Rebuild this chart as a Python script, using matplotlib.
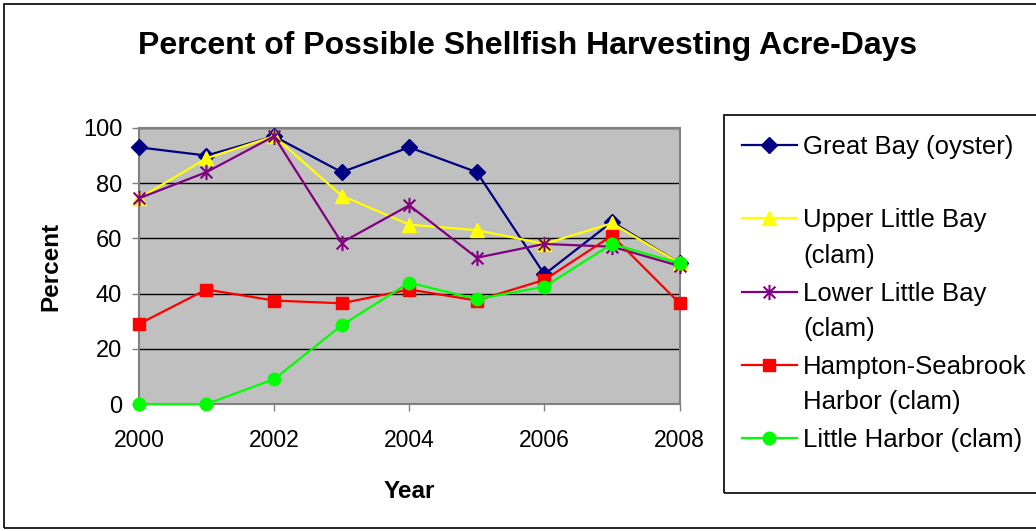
import matplotlib.pyplot as plt
from matplotlib.path import Path
from matplotlib.lines import Line2D
from matplotlib.patches import Rectangle

plt.rcParams['font.family'] = ['Liberation Sans', 'DejaVu Sans']

years = [2000, 2001, 2002, 2003, 2004, 2005, 2006, 2007, 2008]
great_bay = [93, 90, 97, 84, 93, 84, 47, 66, 51]
upper_little_bay = [74.5, 89, 97, 75.5, 65, 63, 58, 65.5, 51]
lower_little_bay = [74.5, 84, 97, 58.5, 72, 53, 58, 57, 50]
hampton_seabrook = [29, 41.5, 37.5, 36.5, 41.5, 37.5, 45, 61, 36.5]
little_harbor = [0, 0, 9, 28.5, 44, 38, 42.5, 58, 51]

labels = ['Great Bay (oyster)', 'Upper Little Bay\n(clam)', 'Lower Little Bay\n(clam)',
          'Hampton-Seabrook\nHarbor (clam)', 'Little Harbor (clam)']
series = [great_bay, upper_little_bay, lower_little_bay, hampton_seabrook, little_harbor]

# asterisk marker: an x with a vertical bar
star = Path([(-1, -1), (1, 1), (-1, 1), (1, -1), (0, -1.3), (0, 1.3)],
            [Path.MOVETO, Path.LINETO, Path.MOVETO, Path.LINETO, Path.MOVETO, Path.LINETO])

styles = [
    dict(color='#000080', marker='D', ms=8, mfc='#000080', mec='#000080'),
    dict(color='#FFFF00', marker='^', ms=10, mfc='#FFFF00', mec='#FFFF00'),
    dict(color='#800080', marker=star, ms=11, mfc='none', mec='#800080', mew=1.5),
    dict(color='#FF0000', marker='s', ms=9, mfc='#FF0000', mec='#FF0000'),
    dict(color='#00FF00', marker='o', ms=9, mfc='#00FF00', mec='#00FF00'),
]

fig = plt.figure(figsize=(10.36, 5.31), dpi=100)
ax = fig.add_axes([0.134, 0.239, 0.522, 0.52])
ax.set_facecolor('#C0C0C0')

for vals, st in zip(series, styles):
    ax.plot(years, vals, lw=1.6, zorder=3, clip_on=False, **st)

ax.set_xlim(2000, 2008)
ax.set_ylim(0, 100)
ax.set_xticks([2000, 2002, 2004, 2006, 2008])
ax.set_yticks([0, 20, 40, 60, 80, 100])
ax.tick_params(axis='both', length=5, width=1, color='#808080')
ax.tick_params(axis='x', labelsize=16.5, pad=13)
ax.tick_params(axis='y', labelsize=17, pad=7)
ax.grid(axis='y', color='black', lw=1)
for sp in ax.spines.values():
    sp.set_color('#808080')
    sp.set_linewidth(1.5)

ax.set_xlabel('Year', fontsize=17.5, fontweight='bold', labelpad=20)
ax.set_ylabel('Percent', fontsize=17.5, fontweight='bold', labelpad=15)

fig.text(0.509, 0.913, 'Percent of Possible Shellfish Harvesting Acre-Days',
         ha='center', va='center', fontsize=23, fontweight='bold')

# outer chart frame
fig.patches.append(Rectangle((0.004, 0.006), 1.2, 0.986, transform=fig.transFigure,
                             fill=False, ec='black', lw=1.2))

# legend box and entries, laid out like the original
fig.patches.append(Rectangle((0.699, 0.071), 0.4, 0.712, transform=fig.transFigure,
                             fill=False, ec='black', lw=1.2))
entry_y = [0.727, 0.589, 0.450, 0.313, 0.175]
for lab, st, yy in zip(labels, styles, entry_y):
    fig.add_artist(Line2D([0.716, 0.742, 0.769], [yy, yy, yy], transform=fig.transFigure,
                          lw=1.6, markevery=[1], **st))
    fig.text(0.775, yy + 0.019, lab, ha='left', va='top', fontsize=18.5, linespacing=1.6)

fig.savefig('out.png', dpi=100)
